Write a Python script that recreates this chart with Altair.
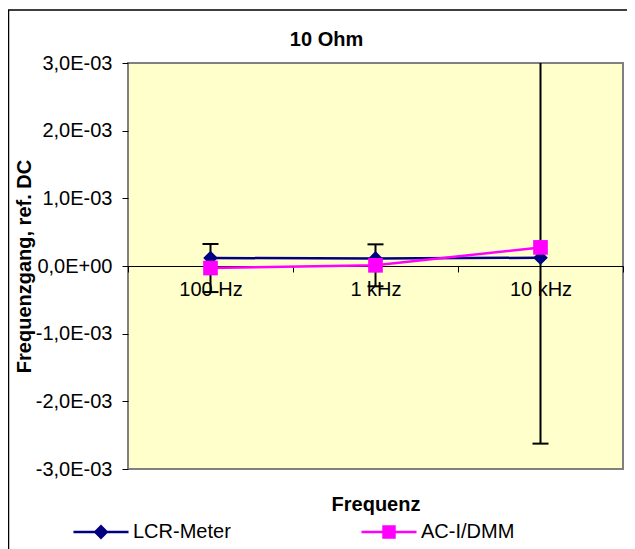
import altair as alt
import pandas as pd

# ---- data ----
freqs = ["100 Hz", "1 kHz", "10 kHz"]
series = ["LCR-Meter", "AC-I/DMM"]
lcr_values = [0.118e-3, 0.112e-3, 0.122e-3]
ac_values = [-0.030e-3, 0.010e-3, 0.275e-3]
ac_errors = [0.355e-3, 0.310e-3, 2.900e-3]
y_ticks = [-3e-3, -2e-3, -1e-3, 0.0, 1e-3, 2e-3, 3e-3]
colors = ["#000080", "#FF00FF"]

rows = []
for f, v in zip(freqs, lcr_values):
    rows.append({"freq": f, "series": series[0], "value": v})
for f, v in zip(freqs, ac_values):
    rows.append({"freq": f, "series": series[1], "value": v})
df = pd.DataFrame(rows)

err_df = pd.DataFrame({
    "freq": freqs,
    "low": [v - e for v, e in zip(ac_values, ac_errors)],
    "high": [v + e for v, e in zip(ac_values, ac_errors)],
})

FONT = "Liberation Sans"
W, H = 495, 406

x_scale = alt.Scale(type="band", domain=freqs, paddingInner=0, paddingOuter=0)
x_axis = alt.Axis(
    title="Frequenz", labelAngle=0, offset=-H / 2, tickBand="extent",
    domainColor="black", domainWidth=1, tickColor="black", tickSize=6,
    labelPadding=7, labelFontSize=20, labelFont=FONT, labelColor="black",
    titleFontSize=20, titleFont=FONT, titleFontWeight="bold", titleColor="black",
    titleY=244, titleBaseline="alphabetic",
)


def xdef():
    return alt.X("freq:N", scale=x_scale, sort=freqs, axis=x_axis)


y_scale = alt.Scale(domain=[-3e-3, 3e-3], nice=False, zero=False)
y_axis = alt.Axis(
    values=y_ticks,
    labelExpr="replace(replace(replace(replace(format(datum.value, '.1e'), '.', ','), 'e-', 'E-0'), 'e+', 'E+0'), '\u2212', '-')",
    title="Frequenzgang, ref. DC", grid=False, domain=False,
    tickColor="black", tickSize=6, labelPadding=10,
    labelFontSize=20, labelFont=FONT, labelColor="black",
    titleFontSize=20, titleFont=FONT, titleFontWeight="bold", titleColor="black",
    titleX=-104, titleY=H / 2, titleAngle=270, titleAlign="center", titleBaseline="middle",
)


def ydef(field):
    return alt.Y(f"{field}:Q", scale=y_scale, axis=y_axis)


color_scale = alt.Scale(domain=series, range=colors)

base_err = alt.Chart(err_df)
err_rule = base_err.mark_rule(color="black", strokeWidth=2, clip=True).encode(
    x=xdef(), y=ydef("low"), y2="high"
)
cap_low = base_err.mark_tick(color="black", size=16, thickness=2, opacity=1, clip=True).encode(
    x=xdef(), y=ydef("low")
)
cap_high = base_err.mark_tick(color="black", size=16, thickness=2, opacity=1, clip=True).encode(
    x=xdef(), y=ydef("high")
)

lines = alt.Chart(df).mark_line(strokeWidth=2.5).encode(
    x=xdef(), y=ydef("value"),
    color=alt.Color("series:N", scale=color_scale, legend=None),
    detail="series:N",
)
points = alt.Chart(df).mark_point(filled=True, size=215, opacity=1).encode(
    x=xdef(), y=ydef("value"),
    color=alt.Color("series:N", scale=color_scale, legend=None),
    shape=alt.Shape("series:N", scale=alt.Scale(domain=series, range=["diamond", "square"]), legend=None),
)

# legend carrier: no visible marks, only the legend (line + marker symbols)
line_part = "M-2.54,-0.115H2.54V0.115H-2.54Z"
sym_lcr = line_part + "M0,-0.69L0.69,0L0,0.69L-0.69,0Z"
sym_ac = line_part + "M-0.62,-0.62H0.62V0.62H-0.62Z"
leg = alt.Legend(
    title=None, orient="none", legendX=-39, legendY=457, direction="horizontal",
    labelFontSize=20, labelFont=FONT, labelColor="black", labelOffset=20,
    symbolSize=470, columnPadding=130, padding=0, labelLimit=300,
)
legend_layer = alt.Chart(df).transform_filter("false").mark_point(
    filled=True, size=470, opacity=1
).encode(
    color=alt.Color("series:N", scale=alt.Scale(domain=series, range=colors), legend=leg),
    shape=alt.Shape("series:N", scale=alt.Scale(domain=series, range=[sym_lcr, sym_ac]), legend=leg),
)

border = alt.Chart(alt.Data(values=[{}])).mark_rect(
    fill="transparent", stroke="black", strokeWidth=1.5
).encode(
    x=alt.value(-119.5), x2=alt.value(W + 120), y=alt.value(-53), y2=alt.value(H + 120)
)

chart = alt.layer(
    border, err_rule, cap_low, cap_high, lines, points, legend_layer
).resolve_scale(
    color="independent", shape="independent"
).properties(
    width=W, height=H,
    view=alt.ViewBackground(fill="#FFFFCC", stroke="#808080", strokeWidth=2),
    title=alt.TitleParams(
        "10 Ohm", fontSize=20, fontWeight="bold", font=FONT, color="black",
        anchor="middle", frame="group", dx=-49, offset=-57, baseline="alphabetic",
    ),
    autosize=alt.AutoSizeParams(type="none"),
    padding={"left": 120, "top": 55, "right": 4, "bottom": 80},
).configure_view(fill="#FFFFCC", stroke="#808080", strokeWidth=2)

chart.save("out.html", embed_options={"renderer": "svg", "actions": False})
